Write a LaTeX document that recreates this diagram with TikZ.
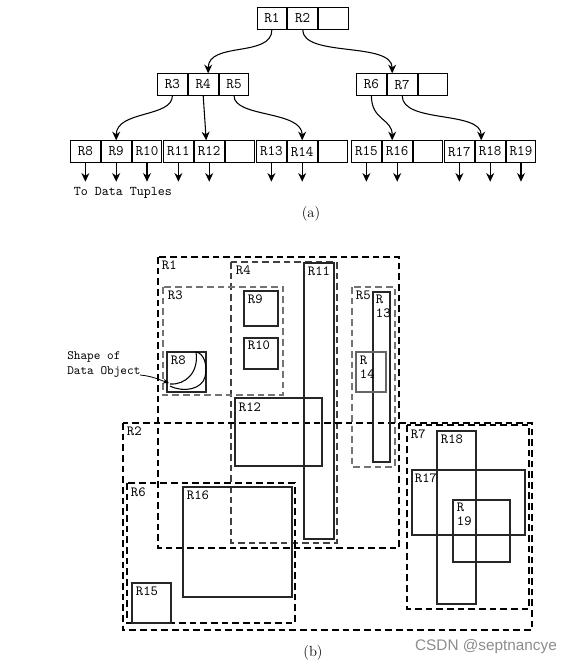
\documentclass[tikz,border=0pt]{standalone}
\usepackage{fontspec}
\newfontfamily\wmfont{Liberation Sans}
\usetikzlibrary{arrows.meta,calc}
\begin{document}
\begin{tikzpicture}[x=0.75pt,y=-0.75pt,
  cell/.style={draw, line width=0.8pt, minimum width=22.3pt, minimum height=16pt, inner sep=0pt, anchor=west, font=\fontsize{11}{12}\selectfont\ttfamily},
  tarrow/.style={-{Stealth[length=6.5pt,width=6pt]}, line width=0.8pt},
  dbox/.style={dash pattern=on 5pt off 3pt, line width=0.9pt},
  lbox/.style={dbox, draw=black!55},
  sbox/.style={line width=0.9pt, draw=black!85},
  lab/.style={anchor=north west, inner sep=0.5pt, font=\fontsize{10.5}{10.5}\selectfont\ttfamily, align=left}
]
\useasboundingbox (0,0) rectangle (571,665);

% ---------- (a) tree ----------
\node[cell] (r1) at (256.5,18.5) {R1};
\node[cell] (r2) at (r1.east) {R2};
\node[cell] (e0) at (r2.east) {};

\node[cell] (r3) at (157,84.5) {R3};
\node[cell] (r4) at (r3.east) {R4};
\node[cell] (r5) at (r4.east) {R5};

\node[cell] (r6) at (356,84.5) {R6};
\node[cell] (r7) at (r6.east) {R7};
\node[cell] (e1) at (r7.east) {};

\node[cell] (r8) at (70,151.5) {R8};
\node[cell] (r9) at (r8.east) {R9};
\node[cell] (r10) at (r9.east) {R10};

\node[cell] (r11) at (163,151.5) {R11};
\node[cell] (r12) at (r11.east) {R12};
\node[cell] (e2) at (r12.east) {};

\node[cell] (r13) at (256,151.5) {R13};
\node[cell] (r14) at (r13.east) {R14};
\node[cell] (e3) at (r14.east) {};

\node[cell] (r15) at (351,151.5) {R15};
\node[cell] (r16) at (r15.east) {R16};
\node[cell] (e4) at (r16.east) {};

\node[cell] (r17) at (444,151.5) {R17};
\node[cell] (r18) at (r17.east) {R18};
\node[cell] (r19) at (r18.east) {R19};

\draw[tarrow] (r1.south) .. controls +(0,28) and +(0,-32) .. ($(r4.north)+(5,0)$);
\draw[tarrow] (r2.south) .. controls +(0,28) and +(0,-32) .. ($(r7.north)+(-10,0)$);

\draw[tarrow] (r3.south) .. controls +(0,22) and +(0,-30) .. (r9.north);
\draw[tarrow] (r4.south) -- ($(r12.north)+(-3,0)$);
\draw[tarrow] (r5.south) .. controls +(0,22) and +(0,-30) .. (r14.north);
\draw[tarrow] (r6.south) .. controls +(0,25) and +(0,-22) .. ($(r16.north)+(-5,0)$);
\draw[tarrow] (r7.south) .. controls +(0,28) and +(0,-30) .. ($(r18.north)+(-9,0)$);

\foreach \n in {r8,r9,r10,r11,r12,r13,r14,r15,r16,r17,r18,r19}
  \draw[tarrow] (\n.south) -- ++(0,19);

\node[font=\fontsize{10}{11}\selectfont\ttfamily] (tuples) at (123,193) {To Data Tuples};
\node[font=\fontsize{11}{12}\selectfont] (capa) at (311,214) {(a)};

% ---------- (b) rectangles ----------
\draw[dbox] (158,257) rectangle (399,548);
\draw[dbox, draw=black!75] (231,262) rectangle (337,543);
\draw[lbox] (163,287) rectangle (283,395);
\draw[lbox] (352,287) rectangle (395,467);
\draw[dbox] (123,423) rectangle (532,630);
\draw[dbox] (127,483) rectangle (295,623);
\draw[dbox] (407,425) rectangle (529,609);

\draw[sbox] (244,291) rectangle (278,326);
\draw[sbox] (244,338) rectangle (278,369);
\draw[sbox] (167,352) rectangle (206,392);
\draw[sbox] (304,263) rectangle (334,539);
\draw[sbox] (235,398) rectangle (322,466);
\draw[sbox] (373,292) rectangle (390,462);
\draw[sbox, draw=black!60] (356,352) rectangle (386,392);
\draw[sbox] (183,487) rectangle (292,597);
\draw[sbox] (132,583) rectangle (171,623);
\draw[sbox] (437,431) rectangle (476,604);
\draw[sbox] (412,470) rectangle (525,535);
\draw[sbox] (453,500) rectangle (510,562);

% labels
\node[lab] (lR1) at (161,260) {R1};
\node[lab] (lR4) at (235,265) {R4};
\node[lab] (lR3) at (167,290) {R3};
\node[lab] (lR9) at (247,294) {R9};
\node[lab] (lR10) at (247,340) {R10};
\node[lab] (lR8) at (170,355) {R8};
\node[lab] (lR11) at (307,266) {R11};
\node[lab] (lR12) at (238,402) {R12};
\node[lab] (lR5) at (355,290) {R5};
\node[lab] (lR13) at (375,294) {R\\13};
\node[lab] (lR14) at (359,355) {R\\14};
\node[lab] (lR2) at (126,426) {R2};
\node[lab] (lR6) at (130,487) {R6};
\node[lab] (lR16) at (186,490) {R16};
\node[lab] (lR15) at (135,586) {R15};
\node[lab] (lR7) at (410,429) {R7};
\node[lab] (lR18) at (440,434) {R18};
\node[lab] (lR17) at (414,473) {R17};
\node[lab] (lR19) at (456,502) {R\\19};

% data object shape
\draw[line width=0.8pt] (170,384) .. controls (186,385) and (199,372) .. (196,352)
  .. controls (204,353) and (208,366) .. (205,377)
  .. controls (202,389) and (184,393) .. (170,386);
\node[anchor=north west, inner sep=0pt, align=left, font=\fontsize{9.5}{11.3}\selectfont\ttfamily] (shapelbl) at (67,351) {Shape of\\Data Object};
\coordinate (shapefrom) at (140,375);
\coordinate (shapetip) at (169,383);
\draw[-{Stealth[length=4.5pt,width=3.5pt]}, line width=0.6pt] (shapefrom) .. controls (152,376) and (160,380) .. (shapetip);

\node[font=\fontsize{11}{12}\selectfont] (capb) at (313,653) {(b)};
\node[font=\fontsize{11.5}{12}\selectfont\wmfont, text=black!45] (wm) at (486,647) {CSDN @septnancye};
\end{tikzpicture}
\end{document}
